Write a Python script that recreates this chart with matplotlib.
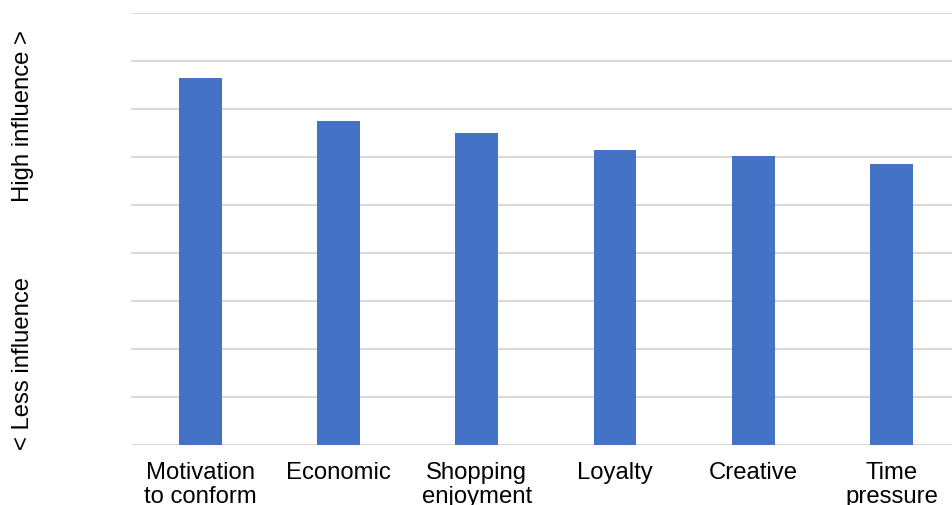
import matplotlib
matplotlib.use("Agg")
import matplotlib.pyplot as plt

categories = ["Motivation\nto conform", "Economic", "Shopping\nenjoyment",
              "Loyalty", "Creative", "Time\npressure"]
influence = [7.65, 6.75, 6.5, 6.15, 6.03, 5.85]

plt.rcParams["font.family"] = ["Liberation Sans", "DejaVu Sans"]

W, H = 952, 506
fig = plt.figure(figsize=(W / 100, H / 100), dpi=100)

# axes span: left edge at x=131, category spacing ~138 px, runs past right edge
left_px, bottom_px, top_px = 131, 446, 14
cat_px = 138.3
ax = fig.add_axes([left_px / W, 1 - bottom_px / H,
                   6 * cat_px / W, (bottom_px - top_px) / H])

x = range(len(categories))
ax.bar(x, influence, width=0.31, color="#4472C4", zorder=3)

ax.set_xlim(-0.5, 5.5)
ax.set_ylim(0, 9)
ax.set_yticks(range(0, 10))
ax.set_yticklabels([])
ax.yaxis.grid(True, color="#D9D9D9", linewidth=1.5, zorder=0)
ax.set_axisbelow(True)

ax.set_xticks(list(x))
ax.set_xticklabels(categories, fontsize=17.2, linespacing=1.12, color="black")
ax.tick_params(axis="both", length=0)
ax.tick_params(axis="x", pad=11.5)
for s in ax.spines.values():
    s.set_visible(False)

fig.text(22.7 / W, 1 - 116.5 / H, "High influence >", rotation=90,
         ha="center", va="center", fontsize=17.2)
fig.text(22.7 / W, 1 - 364 / H, "< Less influence", rotation=90,
         ha="center", va="center", fontsize=17.2)

fig.savefig("out.png", dpi=100)
